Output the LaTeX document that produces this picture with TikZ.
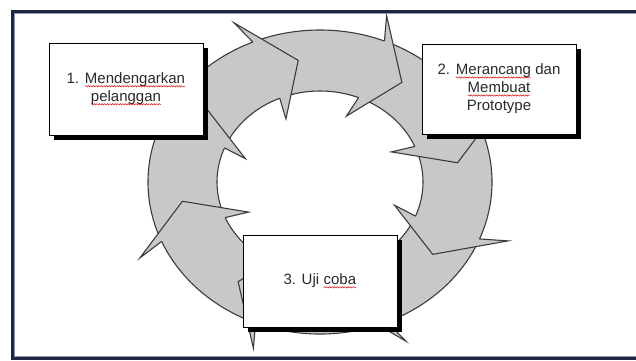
\documentclass[tikz,border=0pt]{standalone}
\usepackage{fontspec}
\setmainfont{Liberation Sans}
\usetikzlibrary{shadows,decorations.pathmorphing}
\definecolor{ringgray}{HTML}{C8C8C8}
\definecolor{ringedge}{HTML}{3C3C3C}
\definecolor{framecol}{HTML}{1E2540}
\definecolor{frameinner}{HTML}{8A97B5}
\definecolor{textcol}{HTML}{2A2A2A}
\newcommand\redwave[1]{\tikz[baseline=(w.base)]{\node[inner sep=0pt, outer sep=0pt,
    minimum width=0pt, minimum height=0pt, draw=none, fill=none] (w) {#1};
  \draw[red!85!black, line width=0.45pt, decorate, decoration={snake, amplitude=0.7pt, segment length=2.6pt}]
    ([yshift=-2.6pt]w.base west) -- ([yshift=-2.6pt]w.base east);}}
\begin{document}
\begin{tikzpicture}[x=1pt,y=-1pt,
  ringline/.style={draw=ringedge, line width=1.1pt, line join=miter},
  txtbox/.style={draw=black, line width=1pt, fill=white, align=center,
    minimum width=154pt, inner sep=2pt,
    font=\fontsize{15}{18}\selectfont, text=textcol,
    drop shadow={shadow xshift=5pt, shadow yshift=-5pt, fill=black, opacity=1}},
  ]
\useasboundingbox (0,0) rectangle (636,360);
\fill[white] (0,0) rectangle (636,360);
% ring
\fill[ringgray, even odd rule] (320,182) ellipse [x radius=172pt, y radius=152pt]
  (320,182) ellipse [x radius=103pt, y radius=91pt];
\draw[ringline] (320,182) ellipse [x radius=172pt, y radius=152pt];
\draw[ringline] (320,182) ellipse [x radius=103pt, y radius=91pt];
% arrow heads, clockwise
\foreach \t in {9,54,99,144,189,234,279,324} {
  \pgfmathsetmacro\b{\t+16.5}
  \pgfmathsetmacro\n{\t+14}
  \fill[ringgray]
    ({320+172*cos(\n)},{182-152*sin(\n)}) --
    ({320+172*1.16*cos(\b)},{182-152*1.16*sin(\b)}) --
    ({320+172*0.81*cos(\t)},{182-152*0.81*sin(\t)}) --
    ({320+172*0.46*cos(\b)},{182-152*0.46*sin(\b)}) --
    ({320+172*0.6*cos(\n)},{182-152*0.6*sin(\n)}) -- cycle;
  \draw[ringline]
    ({320+172*cos(\n)},{182-152*sin(\n)}) --
    ({320+172*1.16*cos(\b)},{182-152*1.16*sin(\b)}) --
    ({320+172*0.81*cos(\t)},{182-152*0.81*sin(\t)}) --
    ({320+172*0.46*cos(\b)},{182-152*0.46*sin(\b)}) --
    ({320+172*0.6*cos(\n)},{182-152*0.6*sin(\n)});
}
% boxes
\node[txtbox, minimum height=92pt] (b1) at (126,89)
  {1. \redwave{Mendengarkan}\\\redwave{pelanggan}};
\node[txtbox, minimum height=90pt] (b2) at (499,89)
  {2. \redwave{Merancang} dan\\\redwave{Membuat}\\Prototype};
\node[txtbox, minimum height=92pt] (b3) at (320,281)
  {3. Uji \redwave{coba}};
% frame
\draw[framecol, line width=2.6pt] (12.3,11.3) rectangle (660,358.3);
\draw[frameinner, line width=0.6pt] (14.4,13.4) rectangle (658,356.2);
\end{tikzpicture}
\end{document}
